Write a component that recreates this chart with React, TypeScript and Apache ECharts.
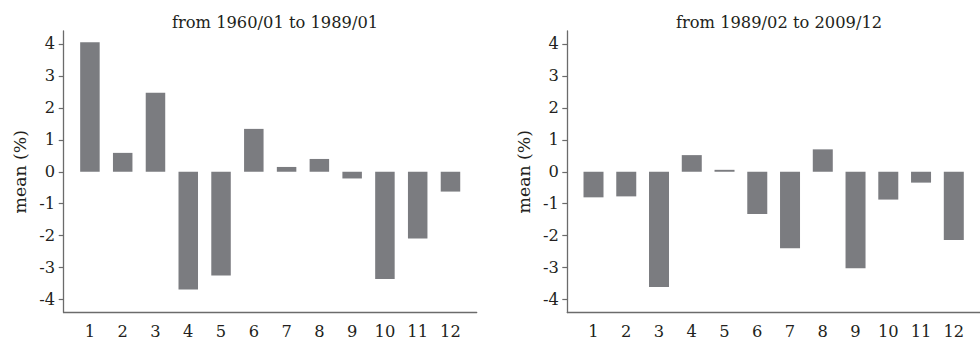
import React, { useEffect, useRef } from "react";
import * as echarts from "echarts";

const months = [1, 2, 3, 4, 5, 6, 7, 8, 9, 10, 11, 12];
const yTicks = [-4, -3, -2, -1, 0, 1, 2, 3, 4];
const titleLeft = "from 1960/01 to 1989/01";
const titleRight = "from 1989/02 to 2009/12";
const yName = "mean (%)";
const meanEarly = [4.05, 0.59, 2.47, -3.68, -3.24, 1.34, 0.15, 0.4, -0.21, -3.35, -2.09, -0.62];
const meanLate = [-0.8, -0.77, -3.6, 0.52, 0.06, -1.32, -2.39, 0.7, -3.02, -0.87, -0.34, -2.13];

const FONT = "DejaVu Serif";
const FS = 16.3;
const TXT = "#231f20";
const AXIS = "#6b6b6b";
const BAR = "#7b7c80";

function xAxisCfg(gridIndex: number) {
  return {
    type: "value" as const,
    gridIndex,
    min: 0.2,
    max: 12.8,
    axisLine: { show: true, onZero: false, lineStyle: { color: AXIS, width: 1.3 } },
    axisTick: { show: false },
    splitLine: { show: false },
    axisLabel: {
      customValues: months,
      margin: 11,
      color: TXT,
      fontFamily: FONT,
      fontSize: FS,
    },
  };
}

function yAxisCfg(gridIndex: number) {
  return {
    type: "value" as const,
    gridIndex,
    min: -4.4,
    max: 4.4,
    name: yName,
    nameLocation: "middle" as const,
    nameGap: 35,
    nameTextStyle: { color: TXT, fontFamily: FONT, fontSize: 17.3 },
    axisLine: { show: true, onZero: false, lineStyle: { color: AXIS, width: 1.3 } },
    axisTick: { show: true, length: 5, customValues: yTicks, lineStyle: { color: AXIS, width: 1.2 } },
    splitLine: { show: false },
    axisLabel: {
      customValues: yTicks,
      margin: 8.5,
      color: TXT,
      fontFamily: FONT,
      fontSize: FS,
    },
  };
}

export default function App() {
  const ref = useRef<HTMLDivElement>(null);
  useEffect(() => {
    if (!ref.current) return;
    const chart = echarts.init(ref.current, undefined, { renderer: "svg" });
    chart.setOption({
      animation: false,
      backgroundColor: "#ffffff",
      title: [
        {
          text: titleLeft,
          left: 270,
          textAlign: "center",
          top: 9,
          textStyle: { color: TXT, fontFamily: FONT, fontSize: FS, fontWeight: "normal" },
        },
        {
          text: titleRight,
          left: 774,
          textAlign: "center",
          top: 9,
          textStyle: { color: TXT, fontFamily: FONT, fontSize: FS, fontWeight: "normal" },
        },
      ],
      grid: [
        { left: 63.7, right: 503.3, top: 31, bottom: 31.5, containLabel: false },
        { left: 567.3, right: -1.8, top: 31, bottom: 31.5, containLabel: false },
      ],
      xAxis: [xAxisCfg(0), xAxisCfg(1)],
      yAxis: [yAxisCfg(0), yAxisCfg(1)],
      series: [
        {
          type: "bar",
          xAxisIndex: 0,
          yAxisIndex: 0,
          barWidth: 19.5,
          itemStyle: { color: BAR },
          data: months.map((m, i) => [m, meanEarly[i]]),
        },
        {
          type: "bar",
          xAxisIndex: 1,
          yAxisIndex: 1,
          barWidth: 20,
          itemStyle: { color: BAR },
          data: months.map((m, i) => [m, meanLate[i]]),
        },
      ],
    });
    return () => chart.dispose();
  }, []);
  return (
    <div
      ref={ref}
      style={{ position: "fixed", left: 0, top: 0, width: 980, height: 344, background: "#fff" }}
    />
  );
}
